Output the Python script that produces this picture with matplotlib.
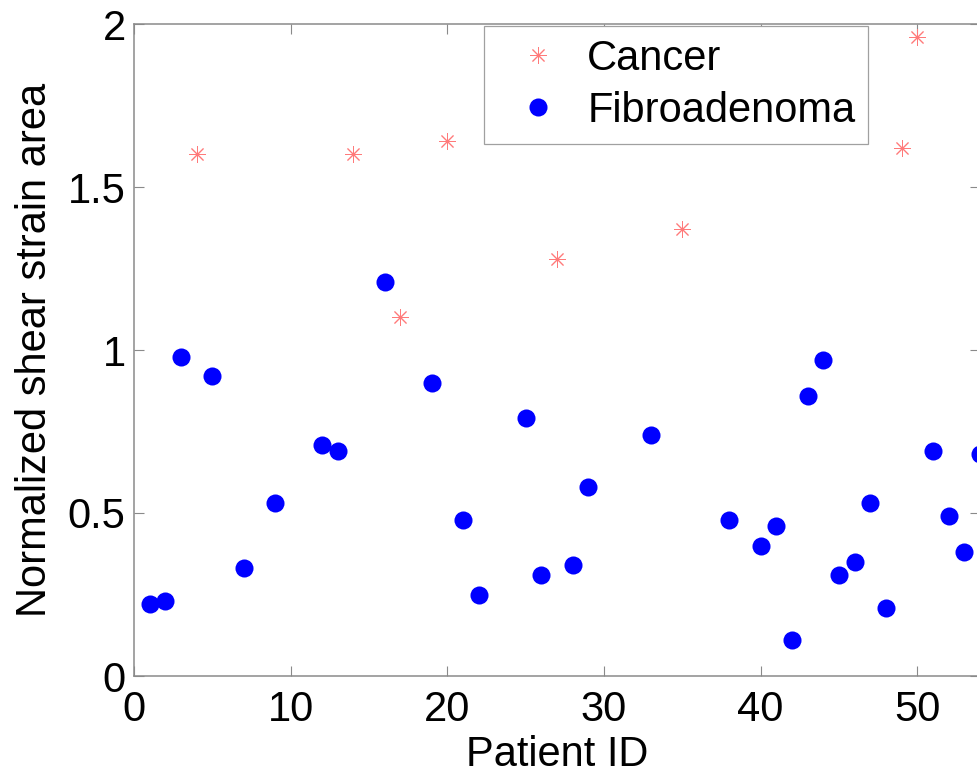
#!/usr/bin/env python3
"""Normalized shear strain area per patient, cancer vs fibroadenoma."""

import matplotlib

matplotlib.use("Agg")
import matplotlib.pyplot as plt

WIDTH_PX = 977
HEIGHT_PX = 779
DPI = 100

# patient IDs and values
cancer_ids = [4, 14, 17, 20, 27, 35, 49, 50]
cancer_vals = [1.60, 1.60, 1.10, 1.64, 1.28, 1.37, 1.62, 1.96]

fibro_ids = [1, 2, 3, 5, 7, 9, 12, 13, 16, 19, 21, 22, 25, 26, 28, 29, 33,
             38, 40, 41, 42, 43, 44, 45, 46, 47, 48, 51, 52, 53, 54]
fibro_vals = [0.22, 0.23, 0.98, 0.92, 0.33, 0.53, 0.71, 0.69, 1.21, 0.90,
              0.48, 0.25, 0.79, 0.31, 0.34, 0.58, 0.74, 0.48, 0.40, 0.46,
              0.11, 0.86, 0.97, 0.31, 0.35, 0.53, 0.21, 0.69, 0.49, 0.38, 0.68]

x_ticks = [0, 10, 20, 30, 40, 50]
y_ticks = [0, 0.5, 1, 1.5, 2]
y_tick_labels = ["0", "0.5", "1", "1.5", "2"]


def main():
    plt.rcParams.update({
        "font.family": ["Liberation Sans", "DejaVu Sans"],
        "axes.edgecolor": "#8a8a8a",
        "axes.linewidth": 1.1,
    })
    fig = plt.figure(figsize=(WIDTH_PX / DPI, HEIGHT_PX / DPI), dpi=DPI)
    fig.patch.set_facecolor("white")

    # axes right edge runs just past the image border, as in the source
    left, right, top, bottom = 134, 980, 24, 676
    ax = fig.add_axes([left / WIDTH_PX, 1 - bottom / HEIGHT_PX,
                       (right - left) / WIDTH_PX, (bottom - top) / HEIGHT_PX])

    ax.plot(cancer_ids, cancer_vals, linestyle="none", marker=(8, 2, 0),
            markersize=12, markeredgewidth=0.7, color="#ff7a7a",
            label="Cancer", clip_on=False, zorder=3)
    ax.plot(fibro_ids, fibro_vals, linestyle="none", marker="o",
            markersize=13, markeredgewidth=0, color="#0000ff",
            label="Fibroadenoma", clip_on=False, zorder=3)

    ax.set_xlim(0, 54)
    ax.set_ylim(0, 2)
    ax.set_xticks(x_ticks)
    ax.set_yticks(y_ticks)
    ax.set_yticklabels(y_tick_labels)
    ax.tick_params(direction="in", length=7, width=0.8, color="#8a8a8a",
                   labelsize=30, top=True, right=True)
    ax.tick_params(axis="x", pad=10)
    ax.tick_params(axis="y", pad=6)

    ax.set_xlabel("Patient ID", fontsize=30, labelpad=4)
    ax.set_ylabel("Normalized shear strain area", fontsize=30, labelpad=9)

    leg = ax.legend(loc="upper left",
                    bbox_to_anchor=(484 / WIDTH_PX, 1 - 26 / HEIGHT_PX),
                    bbox_transform=fig.transFigure, borderaxespad=0,
                    fontsize=30, frameon=True, fancybox=False,
                    borderpad=0.3, handlelength=2.0, handletextpad=0.18,
                    labelspacing=0.3, numpoints=1)
    frame = leg.get_frame()
    frame.set_edgecolor("#a0a0a0")
    frame.set_linewidth(0.9)
    frame.set_alpha(1)

    fig.savefig("out.png", dpi=DPI, facecolor="white")
    plt.close(fig)


if __name__ == "__main__":
    main()
